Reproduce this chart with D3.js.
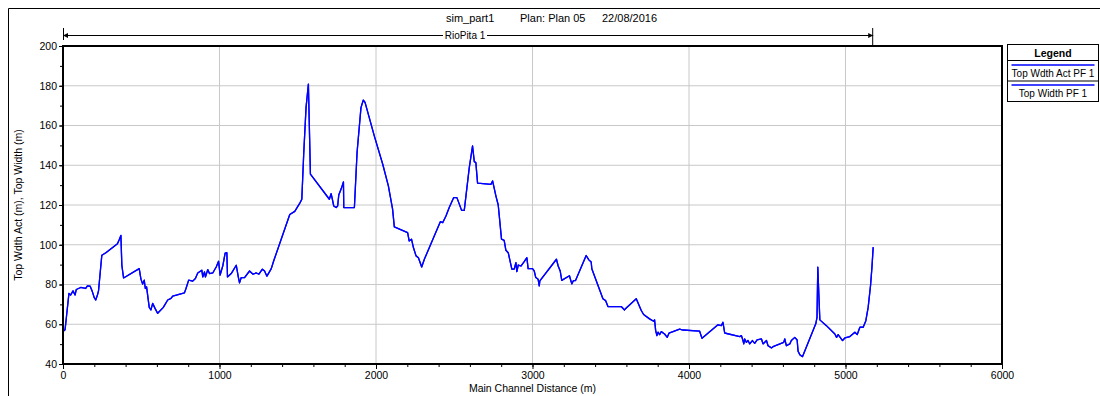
<!DOCTYPE html>
<html>
<head>
<meta charset="utf-8">
<script src="https://cdn.jsdelivr.net/npm/d3@7/dist/d3.min.js"></script>
<style>
  body { margin: 0; background: #fff; }
  text { font-family: "Liberation Sans", Arial, sans-serif; fill: #000; }
</style>
</head>
<body>
<div id="chart"></div>
<script>
// profile data
const distance = [0, 13, 21, 38, 49, 64, 77, 85, 113, 145, 156, 173, 188, 199, 209, 220, 227, 248, 274, 348, 359, 370,
  376, 387, 487, 498, 509, 519, 526, 534, 551, 562, 573, 588, 605, 641, 669, 690, 701, 776, 786, 803, 829, 846, 861,
  887, 893, 904, 910, 925, 936, 957, 979, 994, 1004, 1022, 1036, 1047, 1051, 1075, 1107, 1120, 1128, 1139, 1160,
  1192, 1214, 1235, 1252, 1274, 1288, 1303, 1331, 1346, 1449, 1481, 1515, 1526, 1538, 1553, 1568, 1581,
  1702, 1713, 1719, 1730, 1745, 1755, 1762, 1777, 1792, 1794, 1862, 1879, 1904, 1919, 1930, 1989, 2043, 2079,
  2106, 2117, 2202, 2212, 2227, 2239, 2256, 2271, 2292, 2309, 2411, 2426, 2447, 2468, 2496, 2517, 2547, 2564,
  2596, 2617, 2628, 2638, 2649, 2734, 2745, 2766, 2781, 2802, 2819, 2830, 2845, 2868, 2883, 2894, 2900, 2909,
  2926, 2947, 2964, 2972, 3000, 3011, 3021, 3036, 3043, 3047, 3153, 3164, 3177, 3187, 3236, 3251, 3262, 3275,
  3343, 3360, 3375, 3379, 3450, 3467, 3482, 3567, 3588, 3599, 3663, 3695, 3710, 3748, 3774, 3780, 3787, 3795,
  3802, 3812, 3823, 3844, 3861, 3872, 3940, 3962, 4068, 4083, 4185, 4207, 4217, 4228, 4324, 4335, 4345, 4350,
  4356, 4367, 4377, 4388, 4405, 4420, 4435, 4463, 4473, 4495, 4505, 4527, 4537, 4605, 4612, 4622, 4644, 4654,
  4676, 4691, 4697, 4708, 4725, 4810, 4818, 4823, 4827, 4836, 4878, 4932, 4943, 4953, 4981, 4996, 5028, 5060,
  5075, 5092, 5113, 5130, 5145, 5160, 5169, 5177];

const topWdthAct = [56.3, 57.2, 63, 75.5, 74.7, 76.8, 74.7, 77.5, 78.5, 78, 79.3, 79.2, 76.3, 73.5, 72.2, 74.7, 76.8,
  94.7, 96, 100.5, 102.5, 104.7, 89.7, 83.3, 88, 82.7, 80.2, 82.2, 78, 78.8, 68.5, 67.2, 70.5, 68, 65.5, 68.5,
  72.2, 73, 74.2, 75.8, 78, 82.2, 81.7, 83, 85.8, 87.2, 83.8, 86.3, 83.8, 87.5, 85.5, 85.8, 88.8, 91.7, 84.7,
  89.7, 95.8, 96, 83.8, 85.5, 89.7, 83.8, 80.8, 83.5, 83.5, 86.8, 85.2, 85.8, 85.2, 87.7, 86.8, 84.2, 88, 91.8,
  115.2, 116.8, 121.2, 122.9, 145.5, 169, 180.8, 135.5,
  122.9, 125.7, 123.7, 119.5, 118.7, 119.5, 125, 128, 131.6, 118.7, 118.7, 146.4, 169, 172.8, 171.6, 154.8, 140.5, 129.6,
  117.9, 109, 106.1, 101.9, 102.8, 98.6, 94.4, 93.5, 88.8, 92.7, 111.6, 111.1, 114.5, 118.7, 123.7, 123.7, 117.3, 117.3,
  138.8, 149.7, 141.8, 141.3, 131, 130.4, 132.1, 124.6, 120, 102.8, 102.2, 97.2, 96, 87.7, 87.7, 91, 86.5, 89.8,
  89.3, 91.5, 93.5, 88, 88, 86.8, 83.5, 82.6, 79.3, 81.8, 92.7, 89.3, 86.8, 82.1, 84.4, 80.3, 82, 82,
  94.6, 92.4, 91.3, 87.9, 72.8, 71.9, 68.9, 68.9, 67.2, 68.2, 72.8, 66.9, 64.9, 62.7, 61.5, 62.2, 56.8, 54.3,
  56, 54.8, 56.3, 55.1, 53.4, 55.5, 57.5, 57.1, 56.5, 52.9, 59.7, 59.3, 61, 55.6, 53.8, 54.3, 51.8, 50.1,
  52.6, 50.9, 51.8, 50.1, 51.8, 50.4, 52.1, 52.6, 50.1, 51.8, 49.2, 48.1, 48.7, 50.9, 52.6, 49.2, 50.1, 51.8,
  53.4, 52.1, 46.4, 44.7, 43.7, 60.2, 63.5, 88.7, 80.3, 62.2, 59.3, 55.1, 53.4, 54.8, 51.8, 53.1, 53.8, 56,
  54.8, 58.5, 58.5, 61.8, 68.6, 79.5, 88.7, 98.8];

// second series plots on top of the first in the picture
const topWidth = topWdthAct;

const xTicks = [0, 1000, 2000, 3000, 4000, 5000, 6000];
const yTicks = [40, 60, 80, 100, 120, 140, 160, 180, 200];
const legendLabels = ["Top Wdth Act PF 1", "Top Width PF 1"];
const reachName = "RioPita 1";
const reachEnd = 5177;

const W = 1100, H = 396;
const margin = {left: 63, top: 46, right: 98, bottom: 32};
const w = W - margin.left - margin.right;
const h = H - margin.top - margin.bottom;

const svg = d3.select("#chart").append("svg")
  .attr("width", W).attr("height", H);

// outer frame
svg.append("path")
  .attr("d", "M8.5," + (H + 2) + "V8.5H" + (W + 2))
  .attr("fill", "none").attr("stroke", "#000");

const x = d3.scaleLinear().domain([0, 6000]).range([0, w]);
const y = d3.scaleLinear().domain([40, 200]).range([h, 0]);

const plot = svg.append("g")
  .attr("transform", "translate(" + margin.left + "," + margin.top + ")");

// grid
plot.append("g").selectAll("line").data(xTicks.slice(1, -1)).enter().append("line")
  .attr("x1", d => x(d)).attr("x2", d => x(d)).attr("y1", 0).attr("y2", h)
  .attr("stroke", "#c8c8c8");
plot.append("g").selectAll("line").data(yTicks.slice(1, -1)).enter().append("line")
  .attr("y1", d => y(d)).attr("y2", d => y(d)).attr("x1", 0).attr("x2", w)
  .attr("stroke", "#c8c8c8");

// axes
const xAxis = d3.axisBottom(x).tickValues(xTicks).tickSize(5).tickPadding(3).tickFormat(d3.format("d"));
const xMinor = d3.axisBottom(x).tickValues(d3.range(0, 6001, 200)).tickSize(3).tickFormat("");
const yAxis = d3.axisLeft(y).tickValues(yTicks).tickSize(4).tickPadding(2);
const yMinor = d3.axisLeft(y).tickValues(d3.range(40, 201, 10)).tickSize(3).tickFormat("");

function styleAxis(g) {
  g.select(".domain").remove();
  g.selectAll("text").attr("font-size", 10.5).attr("fill", "#000")
    .style("font-family", "'Liberation Sans', Arial, sans-serif");
  g.selectAll("line").attr("stroke", "#000");
}

plot.append("g").attr("transform", "translate(0," + h + ")").call(xMinor).call(styleAxis);
plot.append("g").attr("transform", "translate(0," + h + ")").call(xAxis).call(styleAxis);
plot.append("g").call(yMinor).call(styleAxis);
plot.append("g").call(yAxis).call(styleAxis);

// lines
const line = d3.line()
  .x(d => x(d[0]))
  .y(d => y(d[1]));

[topWdthAct, topWidth].forEach(function(s) {
  plot.append("path")
    .datum(distance.map((d, i) => [d, s[i]]))
    .attr("fill", "none")
    .attr("stroke", "#0000ff")
    .attr("stroke-width", 1.3)
    .attr("stroke-linejoin", "round")
    .attr("d", line);
});

// frame
plot.append("rect").attr("width", w).attr("height", h)
  .attr("fill", "none").attr("stroke", "#000").attr("stroke-width", 2);

// axis titles
svg.append("text")
  .attr("x", margin.left + w / 2).attr("y", 392)
  .attr("text-anchor", "middle").attr("font-size", 10.5)
  .text("Main Channel Distance (m)");
svg.append("text")
  .attr("transform", "translate(22," + (margin.top + h / 2) + ") rotate(-90)")
  .attr("text-anchor", "middle").attr("font-size", 10.5)
  .text("Top Wdth Act (m), Top Width (m)");

// title
const title = svg.append("g").attr("font-size", 11);
title.append("text").attr("x", 446).attr("y", 22).text("sim_part1");
title.append("text").attr("x", 520).attr("y", 22).text("Plan: Plan 05");
title.append("text").attr("x", 602).attr("y", 22).text("22/08/2016");

// reach marker
const ry = 35.5;
const rx0 = margin.left, rx1 = margin.left + x(reachEnd);
const reach = svg.append("g").attr("stroke", "#000").attr("fill", "none");
const labelX = 465;
reach.append("line").attr("x1", rx0).attr("x2", labelX - 22).attr("y1", ry).attr("y2", ry);
reach.append("line").attr("x1", labelX + 22).attr("x2", rx1).attr("y1", ry).attr("y2", ry);
reach.append("line").attr("x1", rx0 + 0.5).attr("x2", rx0 + 0.5).attr("y1", 28).attr("y2", 40);
reach.append("line").attr("x1", rx1 - 0.5).attr("x2", rx1 - 0.5).attr("y1", 28).attr("y2", 45);
reach.append("path").attr("fill", "#000").attr("stroke", "none")
  .attr("d", "M" + rx0 + "," + ry + "l5,-2.5v5z");
reach.append("path").attr("fill", "#000").attr("stroke", "none")
  .attr("d", "M" + rx1 + "," + ry + "l-5,-2.5v5z");
svg.append("text").attr("x", labelX).attr("y", ry + 3.5)
  .attr("text-anchor", "middle").attr("font-size", 10)
  .text(reachName);

// legend
const lx = 1007.5, ly = 44.5, lw = 91, lh = 57;
const legend = svg.append("g");
legend.append("rect").attr("x", lx).attr("y", ly).attr("width", lw).attr("height", lh)
  .attr("fill", "#fff").attr("stroke", "#000");
legend.append("text").attr("x", lx + lw / 2).attr("y", ly + 12)
  .attr("text-anchor", "middle").attr("font-size", 10.5).attr("font-weight", "bold")
  .text("Legend");
legend.append("line").attr("x1", lx).attr("x2", lx + lw).attr("y1", ly + 16).attr("y2", ly + 16)
  .attr("stroke", "#000");
legendLabels.forEach(function(t, i) {
  const yy = ly + 20.5 + i * 20;
  legend.append("line").attr("x1", lx + 4).attr("x2", lx + lw - 4).attr("y1", yy).attr("y2", yy)
    .attr("stroke", "#0000ff").attr("stroke-width", 1.3);
  legend.append("text").attr("x", lx + lw / 2).attr("y", yy + 12)
    .attr("text-anchor", "middle").attr("font-size", 10)
    .text(t);
  if (i == 0) {
    legend.append("line").attr("x1", lx).attr("x2", lx + lw).attr("y1", yy + 16).attr("y2", yy + 16)
      .attr("stroke", "#000");
  }
});
</script>
</body>
</html>
